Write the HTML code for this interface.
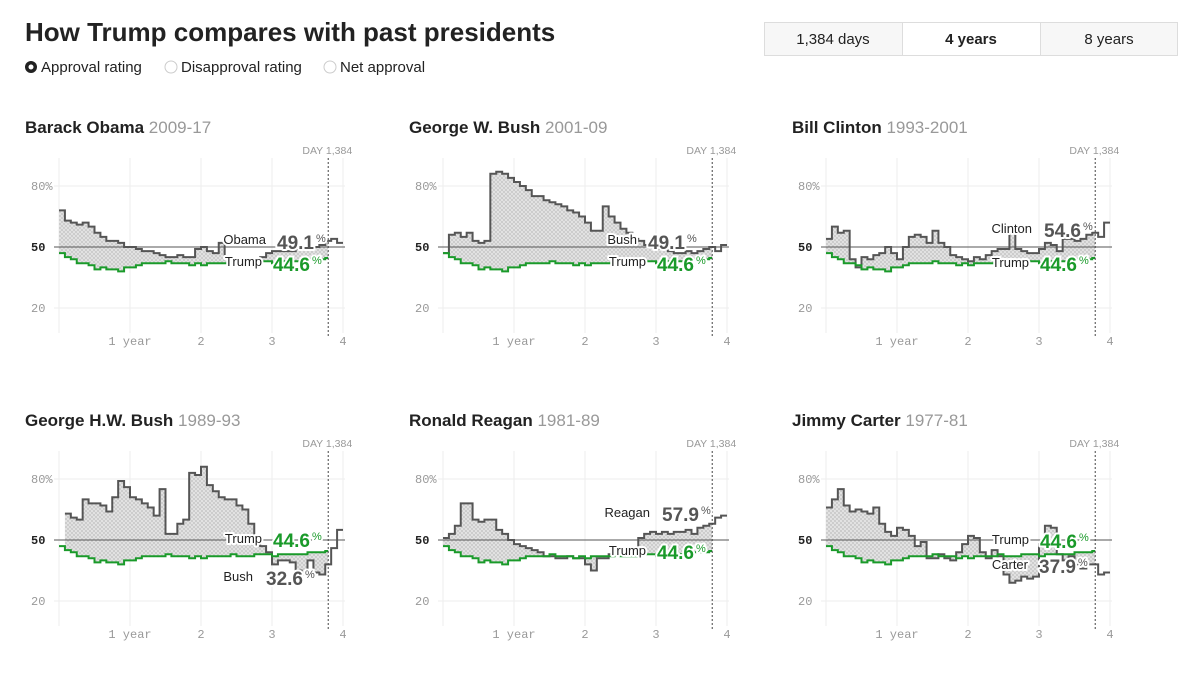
<!DOCTYPE html>
<html><head><meta charset="utf-8"><style>
body{margin:0;background:#fff;width:1200px;height:682px;overflow:hidden;font-family:"Liberation Sans",sans-serif;}
</style></head><body>
<svg id="chart" width="1200" height="682" xmlns="http://www.w3.org/2000/svg" font-family="Liberation Sans, sans-serif">
<defs>
<pattern id="hatch" width="4" height="4" patternUnits="userSpaceOnUse">
<rect width="4" height="4" fill="#e6e6e6"/>
<path d="M0,0L4,4M4,0L0,4" stroke="#c4c4c4" stroke-width="0.7"/>
</pattern>
</defs>
<text x="25" y="41" font-size="26" font-weight="bold" fill="#222">How Trump compares with past presidents</text>
<g font-size="15" fill="#222">
<g><circle cx="31" cy="67" r="6" fill="#222"/><circle cx="31" cy="67" r="2.5" fill="#fff"/><text x="41" y="72">Approval rating</text></g>
<g><circle cx="171" cy="67" r="6" fill="#fff" stroke="#ccc"/><text x="181" y="72">Disapproval rating</text></g>
<g><circle cx="330" cy="67" r="6" fill="#fff" stroke="#ccc"/><text x="340" y="72">Net approval</text></g>
</g>
<g font-size="15" fill="#222" text-anchor="middle">
<g><rect x="764.5" y="22.5" width="138" height="33" fill="#f7f7f7" stroke="#ddd"/><text x="833" y="44">1,384 days</text></g>
<g><rect x="902.5" y="22.5" width="138" height="33" fill="#fff" stroke="#ddd"/><text x="971" y="44" font-weight="bold">4 years</text></g>
<g><rect x="1040.5" y="22.5" width="137" height="33" fill="#f7f7f7" stroke="#ddd"/><text x="1109" y="44">8 years</text></g>
</g>
<g id="panels"></g>
</svg>
<script>
const trump = [47,45,44,42,42,41,39,40,39,39,38,40,40,41,42,42,42,42,43,42,42,42,41,42,41,42,42,42,42,43,42,42,42,43,43,43,42,43,43,43,43,43,44,44,44,44.6];
const presidents = ["Barack Obama","George W. Bush","Bill Clinton","George H.W. Bush","Ronald Reagan","Jimmy Carter"];
const shortNames = ["Obama","Bush","Clinton","Bush","Reagan","Carter"];
const terms = ["2009-17","2001-09","1993-2001","1989-93","1981-89","1977-81"];
const finalValues = ["49.1","49.1","54.6","32.6","57.9","37.9"];
const obama = [68,63,62,61,62,60,57,55,53,53,52,50,50,49,48,48,47,46,45,45,46,45,45,49,50,48,47,52,45,44,44,43,43,44,45,47,48,48,48,48,49,49,49,50,51,53,54,52];
const gwbush = [47,56,57,55,57,53,52,53,86,87,86,84,82,80,78,75,75,73,72,71,70,68,67,65,62,58,58,70,65,62,59,57,54,53,51,52,49,50,48,47,47,48,47,48,49,50,48,51];
const clinton = [54,60,57,58,44,40,45,44,46,47,50,47,44,50,55,56,55,52,58,52,50,46,45,44,43,45,44,46,48,49,49,57,49,48,47,47,49,52,51,48,54,54,53,54,56,57,55,62];
const ghwbush = [null,63,61,60,70,68,68,67,64,71,79,76,71,70,68,66,62,75,53,53,58,60,83,82,86,77,74,71,70,70,67,65,58,50,47,44,38,40,40,39,35,33,40,34,33,38,46,55];
const reagan = [51,53,57,68,68,60,59,60,60,55,53,50,48,47,46,45,44,42,42,41,41,42,41,41,38,35,41,41,43,45,46,43,46,51,53,54,53,54,53,54,54,55,53,56,57,58,61,62];
const carter = [66,70,75,67,64,65,64,63,66,58,54,52,56,55,52,47,49,41,41,43,41,40,44,48,52,51,44,41,45,42,33,29,30,32,31,32,48,57,56,43,40,42,38,36,38,38,33,34];
const series = [obama,gwbush,clinton,ghwbush,reagan,carter];
const yTicks = [80,50,20];
const xTicks = [1,2,3,4];
const xTickLabels = ["1 year","2","3","4"];
const currentDay = 1384;

const NS="http://www.w3.org/2000/svg";
const colX=[0,384,767], rowY=[0,293];
// label layout per panel: [nameEnd, nameY, numStart, numY, trumpY, trumpNumY]
const labelLayout=[[266,244,277,249,266,271],[253,244,264,249,266,271],[265,233,277,237,267,271],[253,288,266,292,250,254],[266,224,278,228,262,266],[261,276,272,280,251,255]];
function xs(m){return 59+m/12*71;}
function ys(v){return 247-(v-50)*2.033;}
function mk(tag,attrs,parent){const e=document.createElementNS(NS,tag);for(const k in attrs)e.setAttribute(k,attrs[k]);parent.appendChild(e);return e;}
function stepPts(arr,endM){const pts=[];let started=false;for(let i=0;i<arr.length;i++){if(arr[i]==null)continue;const x0=xs(i),x1=xs(Math.min(i+1,endM));const y=ys(arr[i]);pts.push([x0,y]);pts.push([x1,y]);}return pts;}
const root=document.getElementById('panels');
const trumpEnd=currentDay/365*12;
presidents.forEach((name,p)=>{
  const g=mk('g',{transform:`translate(${colX[p%3]},${rowY[Math.floor(p/3)]})`},root);
  
  
  const t=mk('text',{x:25,y:133,'font-size':17,'font-weight':'bold',fill:'#222'},g);
  
  
  t.textContent=name+' ';
  const ts=mk('tspan',{'font-weight':'normal',fill:'#999'},t);ts.textContent=terms[p];
  // grid
  [0].concat(xTicks).forEach(v=>{const l=mk('line',{x1:xs(v*12),x2:xs(v*12),y1:158,y2:333,stroke:'#eee'},g);
    
    });
  yTicks.forEach(v=>{const l=mk('line',{x1:54,x2:345,y1:ys(v),y2:ys(v),stroke:v==50?'#555':'#eee'},g);
    
    
    const tx=mk('text',{x:31,y:ys(v)+4,'font-size':12,'font-family':'Liberation Mono, monospace',fill:v==50?'#222':'#999','font-weight':v==50?'bold':'normal'},g);
    
    
    tx.textContent=v==80?'80%':String(v);});
  xTicks.forEach((v,i)=>{const tx=mk('text',{x:xs(v*12),y:345,'font-size':12,'font-family':'Liberation Mono, monospace',fill:'#999','text-anchor':'middle'},g);
    
    
    tx.textContent=xTickLabels[i];});
  const arr=series[p];
  const pPts=stepPts(arr,48), tPts=stepPts(trump,trumpEnd);
  // fill between over common range
  const firstI=arr.findIndex(v=>v!=null);
  const cp=[];for(let i=firstI;i<trump.length;i++){const x0=xs(i),x1=xs(Math.min(i+1,trumpEnd));cp.push([x0,ys(arr[i])],[x1,ys(arr[i])]);}
  const ct=[];for(let i=trump.length-1;i>=firstI;i--){const x0=xs(i),x1=xs(Math.min(i+1,trumpEnd));ct.push([x1,ys(trump[i])],[x0,ys(trump[i])]);}
  const f=mk('polygon',{points:cp.concat(ct).map(q=>q.join(',')).join(' '),fill:'url(#hatch)'},g);
  
  
  // redraw 50 line over fill
  mk('line',{x1:54,x2:345,y1:ys(50),y2:ys(50),stroke:'#555'},g);
  const pl=mk('polyline',{points:pPts.map(q=>q.join(',')).join(' '),fill:'none',stroke:'#555','stroke-width':2},g);
  
  
  const tl=mk('polyline',{points:tPts.map(q=>q.join(',')).join(' '),fill:'none',stroke:'#1a9a2a','stroke-width':2},g);
  
  
  const dl=mk('line',{x1:xs(trumpEnd),x2:xs(trumpEnd),y1:158,y2:336,stroke:'#444','stroke-dasharray':'2,2'},g);
  
  
  const dt=mk('text',{x:xs(trumpEnd)+24,y:154,'font-size':10.5,fill:'#999','text-anchor':'end'},g);
  
  
  dt.textContent='DAY 1,384';
  const L=labelLayout[p];
  const halo={stroke:'#fff','stroke-width':4,'paint-order':'stroke','stroke-linejoin':'round'};
  const n1=mk('text',Object.assign({x:L[0],y:L[1],'font-size':13,fill:'#222','text-anchor':'end'},halo),g);
  
  
  n1.textContent=shortNames[p];
  const v1=mk('text',Object.assign({x:L[2],y:L[3],'font-size':19,'font-weight':'bold',fill:'#555'},halo),g);
  
  
  v1.textContent=finalValues[p];
  const s1=mk('tspan',{'font-size':11,'font-weight':'normal',dx:2,dy:-7},v1);s1.textContent='%';
  const n2=mk('text',Object.assign({x:262,y:L[4],'font-size':13,fill:'#222','text-anchor':'end'},halo),g);
  
  
  n2.textContent='Trump';
  const v2=mk('text',Object.assign({x:273,y:L[5],'font-size':19,'font-weight':'bold',fill:'#1a9a2a'},halo),g);
  
  
  v2.textContent=trump[trump.length-1].toFixed(1);
  const s2=mk('tspan',{'font-size':11,'font-weight':'normal',dx:2,dy:-7},v2);s2.textContent='%';
});
</script>
</body></html>
